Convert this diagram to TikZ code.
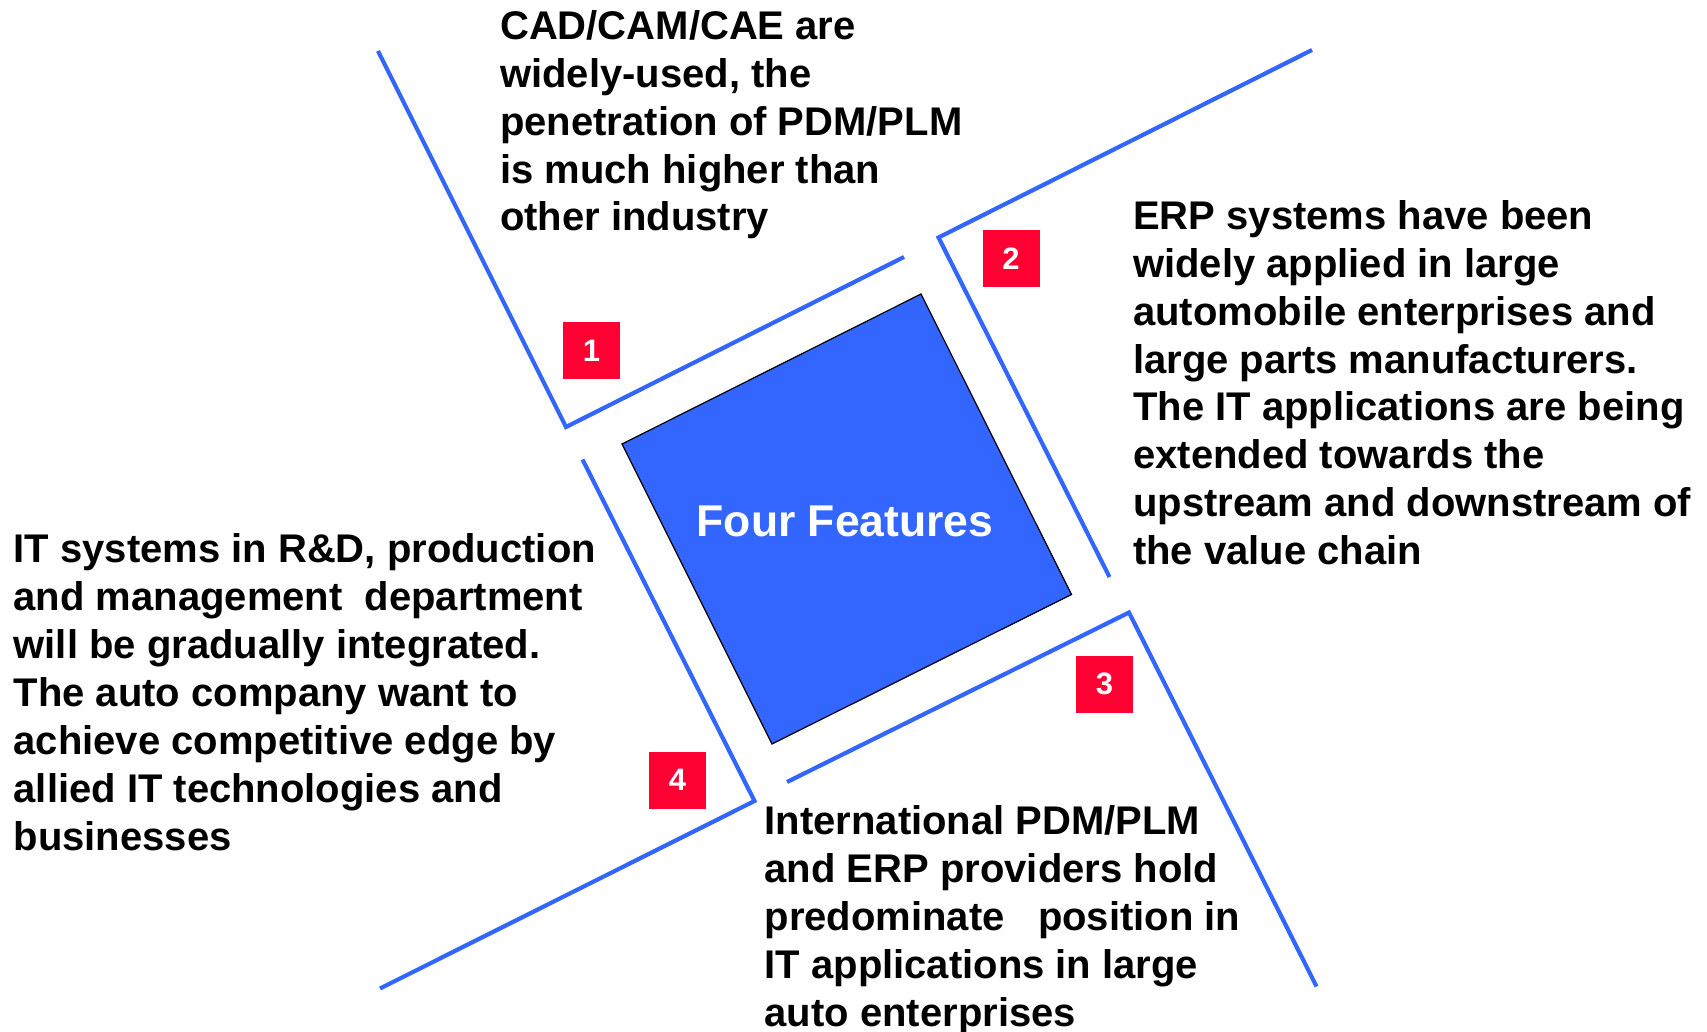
\documentclass[tikz,border=0pt]{standalone}
\usepackage{fontspec}
\setmainfont{Liberation Sans}
\definecolor{lineblue}{HTML}{3366FF}
\definecolor{featred}{HTML}{FF0033}
\begin{document}
\begin{tikzpicture}[x=1pt,y=-1pt,
  frame/.style={draw=lineblue,line width=4.2pt,line join=miter},
  numbox/.style={fill=featred,minimum width=57pt,minimum height=57pt,inner sep=0pt,text=white,font=\fontsize{31}{31}\selectfont\bfseries},
  desc/.style={anchor=base west,align=left,inner sep=0pt,font=\fontsize{40}{47.95}\selectfont\bfseries}]
\useasboundingbox (0,0) rectangle (1707,1032);
% corner coordinates of the four frames
\coordinate (f1a) at (378,51);
\coordinate (f1c) at (566,427);
\coordinate (f1b) at (904,257);
\coordinate (f2a) at (1312,50);
\coordinate (f2c) at (938.5,237.5);
\coordinate (f2b) at (1109.5,577);
\coordinate (f3a) at (787,782);
\coordinate (f3c) at (1129,612.5);
\coordinate (f3b) at (1316.5,986.5);
\coordinate (f4a) at (582.5,459.5);
\coordinate (f4c) at (754.5,801);
\coordinate (f4b) at (380,988.5);
\draw[frame] (f1a) -- (f1c) -- (f1b);
\draw[frame] (f2a) -- (f2c) -- (f2b);
\draw[frame] (f3a) -- (f3c) -- (f3b);
\draw[frame] (f4a) -- (f4c) -- (f4b);
% central square
\coordinate (sqt) at (921,294);
\coordinate (sqr) at (1071.5,594.5);
\coordinate (sqb) at (772,744);
\coordinate (sql) at (622,444);
\draw[fill=lineblue,draw=black,line width=1.2pt,line join=miter] (sqt) -- (sqr) -- (sqb) -- (sql) -- cycle;
\node[text=white,font=\fontsize{44.5}{50}\selectfont\bfseries] (center) at (845,521) {Four Features};
% number boxes
\node[numbox] (n1) at (591.5,350.5) {1};
\node[numbox] (n2) at (1011,258.5) {2};
\node[numbox] (n3) at (1104.5,684) {3};
\node[numbox] (n4) at (677.5,780) {4};
% descriptions (anchored at the baseline of their last line)
\node[desc] (t1) at (500,231) {CAD/CAM/CAE are\\widely-used, the\\penetration of PDM/PLM\\is much higher than\\other industry};
\node[desc] (t2) at (1133,564.8) {ERP systems have been\\widely applied in large\\automobile enterprises and\\large parts manufacturers.\\The IT applications are being\\extended towards the\\upstream and downstream of\\the value chain};
\node[desc] (t3) at (764.5,1026.4) {International PDM/PLM\\and ERP providers hold\\predominate\ \ \ position in\\IT applications in large\\auto enterprises};
\node[desc] (t4) at (13.5,850) {IT systems in R\&D, production\\and management\ \ department\\will be gradually integrated.\\The auto company want to\\achieve competitive edge by\\allied IT technologies and\\businesses};
\end{tikzpicture}
\end{document}
